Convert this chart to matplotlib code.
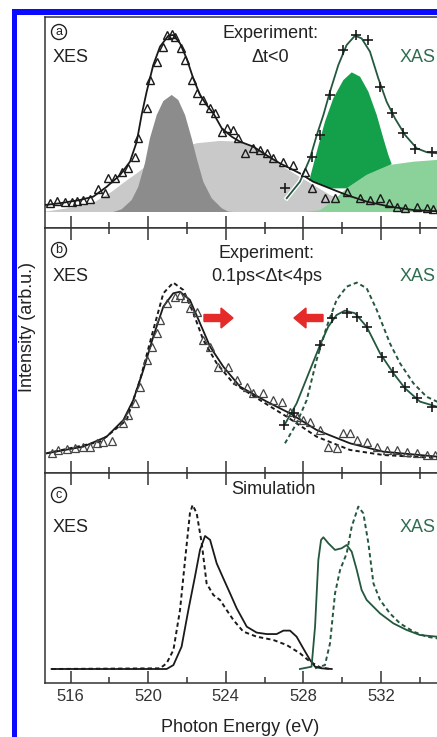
import numpy as np
import matplotlib
matplotlib.use("Agg")
import matplotlib.pyplot as plt
import matplotlib.patheffects as pe
from matplotlib.patches import Rectangle, FancyArrow

plt.rcParams['font.family'] = ['Liberation Sans', 'DejaVu Sans']

# ---------------- Panel (a): experiment, dt<0 ----------------
a_xes_fit_e = [514.68, 515.45, 516.48, 517.17, 517.86, 518.55, 519.06, 519.41, 519.66, 519.92,
               520.26, 520.61, 521.04, 521.29, 521.64, 521.98, 522.32, 522.67, 523.01, 523.36,
               523.79, 524.30, 524.73, 525.42, 526.20, 526.79, 527.82, 528.51, 529.37, 530.23,
               531.26, 532.46, 533.67, 534.89, 536.0]
a_xes_fit_i = [0.039, 0.049, 0.067, 0.086, 0.141, 0.207, 0.281, 0.393, 0.542, 0.672,
               0.821, 0.924, 0.985, 0.989, 0.942, 0.858, 0.747, 0.654, 0.598, 0.551,
               0.468, 0.421, 0.393, 0.365, 0.310, 0.272, 0.216, 0.169, 0.132, 0.095,
               0.058, 0.030, 0.011, 0.004, 0.002]

a_xes_pts_e = [514.94, 515.28, 515.71, 516.06, 516.31, 516.65, 517.00, 517.43, 517.77, 517.94,
               518.29, 518.63, 518.97, 519.32, 519.49, 519.92, 520.09, 520.44, 520.75, 520.95,
               521.21, 521.38, 521.67, 521.90, 522.24, 522.50, 522.84, 523.19, 523.44, 523.79,
               524.05, 524.39, 524.64, 524.99, 525.42, 525.76, 526.11, 526.45, 526.97, 527.48,
               528.08, 528.43, 529.11, 529.63, 530.23, 530.92, 531.43, 531.95, 532.40, 532.81,
               533.24, 533.84, 534.36, 534.70]
a_xes_pts_i = [0.049, 0.061, 0.058, 0.054, 0.061, 0.067, 0.073, 0.128, 0.104, 0.192,
               0.188, 0.225, 0.244, 0.309, 0.412, 0.579, 0.737, 0.840, 0.924, 0.989,
               0.993, 0.979, 0.914, 0.849, 0.737, 0.663, 0.626, 0.579, 0.551, 0.449,
               0.468, 0.458, 0.412, 0.328, 0.356, 0.346, 0.328, 0.300, 0.281, 0.263,
               0.225, 0.132, 0.077, 0.077, 0.113, 0.077, 0.067, 0.077, 0.050, 0.030,
               0.021, 0.030, 0.021, 0.015]

a_dark_gray_e = [518.2, 518.63, 519.15, 519.49, 519.83, 520.09, 520.44, 520.78, 521.21, 521.55,
                 521.90, 522.24, 522.50, 522.84, 523.27, 523.79, 524.13, 524.4]
a_dark_gray_i = [0.0, 0.015, 0.067, 0.141, 0.272, 0.412, 0.542, 0.620, 0.654, 0.626,
                 0.542, 0.412, 0.300, 0.169, 0.077, 0.021, 0.002, 0.0]

a_light_gray_e = [514.68, 514.9, 516.38, 517.26, 518.12, 518.80, 519.41, 520.3, 521.3, 522.50,
                  523.70, 524.73, 525.44, 526.29, 526.79, 527.65, 528.51, 529.37, 530.23, 531.2, 532.0]
a_light_gray_i = [0.003, 0.005, 0.030, 0.057, 0.113, 0.169, 0.216, 0.290, 0.345, 0.384,
                  0.397, 0.393, 0.365, 0.309, 0.263, 0.207, 0.151, 0.095, 0.058, 0.020, 0.0]

a_light_green_e = [528.0, 528.86, 529.50, 530.23, 531.26, 532.46, 533.67, 534.89, 536.0]
a_light_green_i = [0.0, 0.010, 0.060, 0.132, 0.207, 0.263, 0.281, 0.291, 0.295]

a_dark_green_top_e = [528.30, 528.69, 529.11, 529.54, 530.06, 530.49, 530.92, 531.35, 531.78,
                      532.12, 532.38, 532.55]
a_dark_green_top_i = [0.175, 0.337, 0.504, 0.635, 0.737, 0.780, 0.756, 0.672, 0.542,
                      0.412, 0.318, 0.268]
a_dark_green_bot_e = [532.55, 532.46, 531.26, 530.23, 529.37, 528.51, 528.30]
a_dark_green_bot_i = [0.268, 0.263, 0.207, 0.132, 0.132, 0.169, 0.175]

a_xas_fit_e = [527.14, 527.82, 528.34, 528.69, 529.03, 529.37, 529.80, 530.23, 530.66, 531.00,
               531.43, 531.86, 532.29, 532.72, 533.24, 533.84, 534.36, 534.89, 536.0]
a_xas_fit_i = [0.077, 0.169, 0.300, 0.430, 0.542, 0.672, 0.821, 0.933, 0.985, 0.970,
               0.896, 0.747, 0.616, 0.523, 0.430, 0.356, 0.334, 0.328, 0.325]
a_xas_pts_e = [527.05, 528.43, 528.86, 529.37, 530.06, 530.71, 531.35, 531.95, 532.55, 533.15,
               533.75, 534.61]
a_xas_pts_i = [0.132, 0.309, 0.430, 0.654, 0.905, 0.989, 0.961, 0.700, 0.551, 0.439,
               0.352, 0.334]

# ---------------- Panel (b): experiment, 0.1ps<dt<4ps ----------------
b_xes_solid_e = [514.77, 516.66, 517.86, 518.72, 519.23, 519.75, 520.26, 520.78, 521.29, 521.64,
                 522.15, 522.67, 523.19, 523.87, 524.73, 526.11, 527.31, 528.68, 530.40, 532.12,
                 534.89, 536.0]
b_xes_solid_i = [0.027, 0.065, 0.122, 0.217, 0.331, 0.503, 0.693, 0.865, 0.941, 0.950,
                 0.903, 0.770, 0.636, 0.522, 0.408, 0.322, 0.255, 0.160, 0.084, 0.036,
                 0.008, 0.004]
b_xes_dash_e = [514.77, 517.52, 518.89, 519.58, 520.26, 520.78, 521.29, 521.81, 522.33, 522.84,
                523.53, 524.39, 525.76, 527.14, 528.68, 530.40, 532.12, 534.89, 536.0]
b_xes_dash_i = [0.027, 0.093, 0.217, 0.446, 0.731, 0.941, 1.002, 0.960, 0.827, 0.674,
                0.541, 0.427, 0.331, 0.236, 0.122, 0.046, 0.017, 0.0, 0.0]
b_xes_pts_e = [515.02, 515.37, 515.80, 516.23, 516.66, 517.00, 517.34, 517.69, 518.12, 518.72,
               518.98, 519.32, 519.58, 519.92, 520.18, 520.44, 520.61, 520.95, 521.38, 521.64,
               521.90, 522.15, 522.50, 522.84, 523.19, 523.61, 524.13, 524.56, 525.07, 525.42,
               525.93, 526.45, 526.88, 527.31, 527.65, 528.00, 528.34, 528.86, 529.28, 529.71,
               530.06, 530.40, 530.75, 531.26, 531.78, 532.29, 532.81, 533.32, 533.84, 534.35, 534.78]
b_xes_pts_i = [0.027, 0.046, 0.050, 0.055, 0.065, 0.065, 0.084, 0.093, 0.099, 0.198,
               0.246, 0.312, 0.408, 0.560, 0.636, 0.712, 0.789, 0.884, 0.918, 0.931,
               0.912, 0.855, 0.836, 0.674, 0.636, 0.522, 0.522, 0.446, 0.408, 0.370,
               0.370, 0.331, 0.322, 0.265, 0.236, 0.217, 0.208, 0.160, 0.065, 0.055,
               0.141, 0.141, 0.103, 0.093, 0.065, 0.046, 0.046, 0.036, 0.027, 0.017, 0.017]

b_xas_solid_e = [527.05, 527.65, 528.34, 528.86, 529.28, 529.71, 530.14, 530.66, 531.26, 531.95,
                 532.64, 533.24, 534.01, 534.89, 536.0]
b_xas_solid_i = [0.194, 0.312, 0.503, 0.646, 0.750, 0.817, 0.842, 0.827, 0.750, 0.598,
                 0.484, 0.398, 0.322, 0.293, 0.285]
b_xas_dash_e = [527.05, 527.65, 528.17, 528.68, 529.20, 529.71, 530.23, 530.75, 531.26, 531.78,
                532.46, 532.98, 533.67, 534.35, 534.89, 536.0]
b_xas_dash_i = [0.084, 0.198, 0.331, 0.560, 0.750, 0.903, 0.979, 1.002, 0.970, 0.846,
                0.655, 0.541, 0.427, 0.350, 0.322, 0.300]
b_xas_pts_e = [527.0, 527.5, 528.86, 529.46, 530.23, 530.75, 531.26, 532.03, 532.64, 533.24, 533.84, 534.61]
b_xas_pts_i = [0.189, 0.257, 0.646, 0.798, 0.827, 0.808, 0.750, 0.579, 0.493, 0.408, 0.341, 0.293]

# ---------------- Panel (c): simulation ----------------
c_xes_solid_e = [515.02, 520.95, 521.30, 521.72, 522.07, 522.41, 522.67, 522.93, 523.19, 523.53,
                 523.87, 524.22, 524.56, 525.08, 525.59, 526.11, 526.62, 526.97, 527.31, 527.65,
                 527.99, 528.34, 528.60, 528.94, 529.46]
c_xes_solid_i = [0.0, 0.0, 0.024, 0.136, 0.360, 0.563, 0.726, 0.811, 0.787, 0.644,
                 0.553, 0.461, 0.370, 0.258, 0.222, 0.213, 0.213, 0.234, 0.234, 0.197,
                 0.126, 0.055, 0.014, 0.004, 0.0]
c_xes_dash_e = [515.02, 520.61, 520.95, 521.30, 521.64, 521.90, 522.15, 522.29, 522.50, 522.76,
                523.01, 523.36, 523.70, 524.04, 524.39, 524.90, 525.59, 526.45, 527.14, 527.82,
                528.34, 528.86, 529.37]
c_xes_dash_i = [0.0, 0.004, 0.035, 0.116, 0.360, 0.665, 0.949, 1.0, 0.949, 0.766,
                0.522, 0.451, 0.421, 0.360, 0.299, 0.228, 0.197, 0.177, 0.146, 0.096,
                0.045, 0.010, 0.0]
c_xas_solid_e = [527.82, 528.42, 528.60, 528.77, 528.91, 529.03, 529.29, 529.63, 529.97, 530.23,
                 530.49, 530.75, 531.00, 531.26, 531.95, 532.64, 533.32, 534.01, 534.89, 536.0]
c_xas_solid_i = [0.0, 0.014, 0.258, 0.665, 0.787, 0.803, 0.766, 0.726, 0.736, 0.756,
                 0.715, 0.604, 0.482, 0.421, 0.339, 0.278, 0.238, 0.207, 0.197, 0.190]
c_xas_dash_e = [528.60, 529.11, 529.37, 529.63, 529.89, 530.23, 530.49, 530.83, 531.09, 531.35,
                531.61, 531.95, 532.46, 532.98, 533.67, 534.35, 534.89, 536.0]
c_xas_dash_i = [0.004, 0.024, 0.156, 0.461, 0.604, 0.705, 0.868, 0.990, 0.949, 0.766,
                0.522, 0.421, 0.339, 0.278, 0.228, 0.197, 0.187, 0.180]

x_major = [516, 520, 524, 528, 532]
x_minor = [518, 522, 526, 530, 534]

# ---------------- styling ----------------
W, H = 437, 737
fig = plt.figure(figsize=(W / 100, H / 100), dpi=100)
fig.patch.set_facecolor('white')

XMIN, XMAX = 514.68, 536.0
left = 45 / W
width = (XMAX - XMIN) * 19.4 / W


def make_ax(top_px, bot_px, ylim):
    ax = fig.add_axes([left, 1 - bot_px / H, width, (bot_px - top_px) / H])
    ax.set_xlim(XMIN, XMAX)
    ax.set_ylim(*ylim)
    ax.set_yticks([])
    ax.set_xticks(x_major)
    ax.set_xticks(x_minor, minor=True)
    for s in ax.spines.values():
        s.set_color('#333333')
        s.set_linewidth(1.1)
    ax.tick_params(axis='x', which='major', direction='in', length=8.3, width=1.1,
                   color='#333333', labelsize=12, pad=4, labelcolor='#333333')
    ax.tick_params(axis='x', which='minor', direction='in', length=4.5, width=1.1,
                   color='#333333')
    return ax


ax_a = make_ax(17, 228, (-0.0894, 1.0894))
ax_b = make_ax(228, 473, (-0.0857, 1.314))
ax_c = make_ax(473, 683, (-0.0854, 1.195))

ax_a.tick_params(axis='x', which='both', top=False, labelbottom=False)
ax_b.tick_params(axis='x', which='both', top=True, labelbottom=False)
ax_c.tick_params(axis='x', which='both', top=True, labelbottom=True)

GREEN_LINE = '#24583e'
GREEN_TXT = '#2f6d4f'
DARK_GREEN = '#14a04b'
LIGHT_GREEN = '#8ad29a'
LIGHT_GRAY = '#c9c9c9'
DARK_GRAY = '#8c8c8c'
BLACK = '#1a1a1a'

# Panel a
ax_a.fill_between(a_light_gray_e, 0, a_light_gray_i, facecolor=LIGHT_GRAY, edgecolor='none',
                  lw=0, zorder=1)
ax_a.fill_between(a_dark_gray_e, 0, a_dark_gray_i, facecolor=DARK_GRAY, edgecolor='none',
                  lw=0, zorder=2)
ax_a.fill_between(a_light_green_e, 0, a_light_green_i, facecolor=LIGHT_GREEN, edgecolor='none',
                  lw=0, zorder=3)
ax_a.fill(a_dark_green_top_e + a_dark_green_bot_e, a_dark_green_top_i + a_dark_green_bot_i,
          facecolor=DARK_GREEN, edgecolor='none', lw=0, zorder=4)
halo = [pe.withStroke(linewidth=3.2, foreground='white')]
ax_a.plot(a_xes_fit_e, a_xes_fit_i, color=BLACK, lw=1.3, zorder=5)
ax_a.plot(a_xas_fit_e, a_xas_fit_i, color=GREEN_LINE, lw=1.3, zorder=6, path_effects=halo)
ax_a.plot(a_xes_pts_e, a_xes_pts_i, ls='none', marker='^', ms=6, mfc='none', mec=BLACK,
          mew=1.0, zorder=7)
ax_a.plot(a_xas_pts_e, a_xas_pts_i, ls='none', marker='+', ms=7, mec=BLACK, mew=1.2, zorder=7)

# Panel b
dash = (0, (2.2, 1.6))
ax_b.plot(b_xes_dash_e, b_xes_dash_i, color=BLACK, lw=1.4, ls=dash, zorder=3)
ax_b.plot(b_xes_solid_e, b_xes_solid_i, color=BLACK, lw=1.3, zorder=4)
ax_b.plot(b_xes_pts_e, b_xes_pts_i, ls='none', marker='^', ms=6, mfc='none', mec='#444444',
          mew=0.9, zorder=5)
ax_b.plot(b_xas_dash_e, b_xas_dash_i, color=GREEN_LINE, lw=1.4, ls=dash, zorder=3)
ax_b.plot(b_xas_solid_e, b_xas_solid_i, color=GREEN_LINE, lw=1.3, zorder=4)
ax_b.plot(b_xas_pts_e, b_xas_pts_i, ls='none', marker='+', ms=7, mec=BLACK, mew=1.2, zorder=5)

# Panel c
ax_c.plot(c_xes_dash_e, c_xes_dash_i, color=BLACK, lw=1.4, ls=dash, zorder=3)
ax_c.plot(c_xes_solid_e, c_xes_solid_i, color=BLACK, lw=1.3, zorder=4)
ax_c.plot(c_xas_dash_e, c_xas_dash_i, color=GREEN_LINE, lw=1.4, ls=dash, zorder=3)
ax_c.plot(c_xas_solid_e, c_xas_solid_i, color=GREEN_LINE, lw=1.3, zorder=4)


def ftext(x, y, s, **kw):
    kw.setdefault('fontsize', 13)
    kw.setdefault('color', '#222222')
    return fig.text(x / W, 1 - y / H, s, **kw)


circ = dict(boxstyle='circle,pad=0.12', fc='white', ec='#222222', lw=1.0)
for (yy, lab) in [(32, 'a'), (250, 'b'), (495, 'c')]:
    ftext(59, yy, lab, fontsize=9, ha='center', va='center', bbox=circ)

ftext(53, 58, 'XES', ha='left', va='center')
ftext(53, 276, 'XES', ha='left', va='center')
ftext(53, 527, 'XES', ha='left', va='center')
ftext(400, 57, 'XAS', ha='left', va='center', color=GREEN_TXT)
ftext(400, 276, 'XAS', ha='left', va='center', color=GREEN_TXT)
ftext(400, 527, 'XAS', ha='left', va='center', color=GREEN_TXT)

ftext(270, 33, 'Experiment:', ha='center', va='center')
ftext(270, 57, 'Δt<0', ha='center', va='center')
ftext(267, 253, 'Experiment:', ha='center', va='center')
ftext(267, 276, '0.1ps<Δt<4ps', ha='center', va='center')
ftext(273, 490, 'Simulation', ha='center', va='center')

ftext(28, 327, 'Intensity (arb.u.)', rotation=90, ha='center', va='center')
ftext(240, 727, 'Photon Energy (eV)', ha='center', va='center')

# red arrows (figure pixel space)
RED = '#e52a2a'
for x0, dx in [(204, 29), (323, -29)]:
    arr = FancyArrow(x0 / W, 1 - 318 / H, dx / W, 0, width=7 / H, head_width=20 / H,
                     head_length=12 / W, length_includes_head=True, color=RED,
                     transform=fig.transFigure, zorder=10)
    fig.patches.append(arr)

# blue frame
BLUE = '#0a0aff'
fig.patches.append(Rectangle((12 / W, 0), 5 / W, 1 - 9 / H, transform=fig.transFigure,
                             color=BLUE, lw=0, zorder=20))
fig.patches.append(Rectangle((12 / W, 1 - 15 / H), 1, 6 / H, transform=fig.transFigure,
                             color=BLUE, lw=0, zorder=20))

fig.savefig('out.png', dpi=100, facecolor='white')
